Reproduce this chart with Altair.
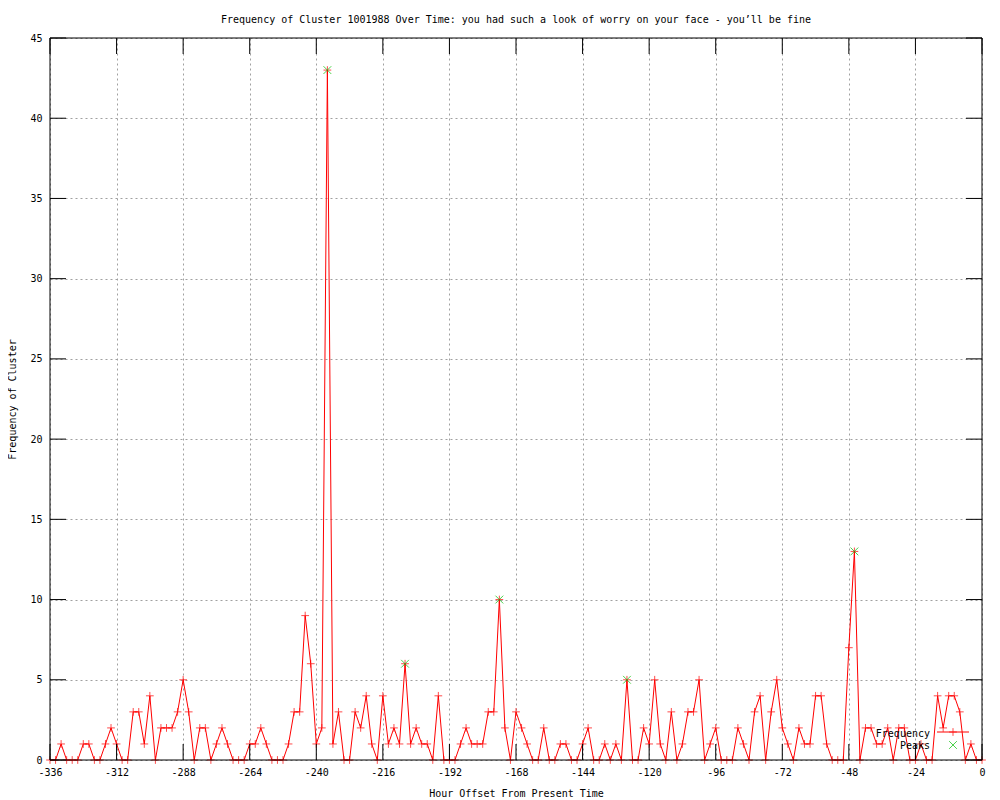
import altair as alt
import pandas as pd

# ---- data ----
hours = list(range(-336, 1, 2))
freq = [
    0, 0, 1, 0, 0, 0, 1, 1, 0,
    0, 1, 2, 1, 0, 0, 3, 3, 1,
    4, 0, 2, 2, 2, 3, 5, 3, 0,
    2, 2, 0, 1, 2, 1, 0, 0, 0,
    1, 1, 2, 1, 0, 0, 0, 1, 3,
    3, 9, 6, 1, 2, 43, 1, 3, 0,
    0, 3, 2, 4, 1, 0, 4, 1, 2,
    1, 6, 1, 2, 1, 1, 0, 4, 0,
    0, 0, 1, 2, 1, 1, 1, 3, 3,
    10, 2, 0, 3, 2, 1, 0, 0, 2,
    0, 0, 1, 1, 0, 0, 1, 2, 0,
    0, 1, 0, 1, 0, 5, 0, 0, 2,
    1, 5, 1, 0, 3, 0, 1, 3, 3,
    5, 0, 1, 2, 0, 0, 0, 2, 1,
    0, 3, 4, 0, 3, 5, 2, 1, 0,
    2, 1, 1, 4, 4, 1, 0, 0, 0,
    7, 13, 0, 2, 2, 1, 1, 2, 0,
    2, 2, 0, 0, 1, 0, 0, 4, 2,
    4, 4, 3, 0, 1, 0, 0,
]
peak_hours = [-236, -208, -174, -128, -46]
peak_values = [43, 6, 10, 5, 13]
x_ticks = [-336, -312, -288, -264, -240, -216, -192, -168, -144, -120, -96, -72, -48, -24, 0]
y_ticks = [0, 5, 10, 15, 20, 25, 30, 35, 40, 45]

TITLE = "Frequency of Cluster 1001988 Over Time: you had such a look of worry on your face - you\u2019ll be fine"
FONT = "DejaVu Sans Mono"
W, H = 932, 722
TICK = 16

df = pd.DataFrame({"hour": hours, "freq": freq})
peaks = pd.DataFrame({"hour": peak_hours, "freq": peak_values})
xt = pd.DataFrame({"hour": x_ticks})
yt = pd.DataFrame({"freq": y_ticks})

PLUS = "M-1,0L1,0M0,-1L0,1"
CROSS = "M-1,-1L1,1M-1,1L1,-1"
RED = "#ff0000"
GREEN = "#00c000"

xscale = alt.Scale(domain=[-336, 0], nice=False, zero=False)
yscale = alt.Scale(domain=[0, 45], nice=False)

xaxis = alt.Axis(values=x_ticks, title="Hour Offset From Present Time", grid=True,
                 gridDash=[2, 3], gridColor="#a0a0a0", ticks=False, domain=False,
                 labelExpr="'' + datum.value", labelPadding=7, titlePadding=11,
                 labelFlush=False)
yaxis = alt.Axis(values=y_ticks, title="Frequency of Cluster", grid=True,
                 gridDash=[2, 3], gridColor="#a0a0a0", ticks=False, domain=False,
                 labelExpr="'' + datum.value", labelPadding=8, titlePadding=12)

base = alt.Chart(df).encode(
    x=alt.X("hour:Q", scale=xscale, axis=xaxis),
    y=alt.Y("freq:Q", scale=yscale, axis=yaxis),
)

line = base.mark_line(color=RED, strokeWidth=1)
pts = base.mark_point(shape=PLUS, color=RED, filled=False, size=60, strokeWidth=1)
pk = alt.Chart(peaks).mark_point(shape=CROSS, color=GREEN, filled=False, size=60, strokeWidth=1).encode(
    x=alt.X("hour:Q", scale=xscale), y=alt.Y("freq:Q", scale=yscale))

# inward ticks on all four sides
yt_left = alt.Chart(yt).mark_rule(color="black").encode(
    y=alt.Y("freq:Q", scale=yscale), x=alt.value(0), x2=alt.value(TICK))
yt_right = alt.Chart(yt).mark_rule(color="black").encode(
    y=alt.Y("freq:Q", scale=yscale), x=alt.value(W - TICK), x2=alt.value(W))
xt_bot = alt.Chart(xt).mark_rule(color="black").encode(
    x=alt.X("hour:Q", scale=xscale), y=alt.value(H - TICK), y2=alt.value(H))
xt_top = alt.Chart(xt).mark_rule(color="black").encode(
    x=alt.X("hour:Q", scale=xscale), y=alt.value(0), y2=alt.value(TICK))

one = alt.Data(values=[{"k": 1}])
border = alt.Chart(one).mark_rect(filled=False, stroke="black", strokeWidth=1).encode(
    x=alt.value(0), x2=alt.value(W), y=alt.value(0), y2=alt.value(H))

# legend (gnuplot style: label left, sample right)
leg_txt = alt.Chart(alt.Data(values=[{"t": "Frequency", "yy": 696}, {"t": "Peaks", "yy": 708}])).mark_text(
    font=FONT, fontSize=10, align="right", baseline="middle", color="black").encode(
    text="t:N", x=alt.value(880), y=alt.Y("yy:Q", scale=None))
leg_line = alt.Chart(one).mark_rule(color=RED, strokeWidth=1).encode(
    x=alt.value(887), x2=alt.value(919), y=alt.value(694))
leg_plus = alt.Chart(one).mark_point(shape=PLUS, color=RED, filled=False, size=60, strokeWidth=1).encode(
    x=alt.value(903), y=alt.value(694))
leg_cross = alt.Chart(one).mark_point(shape=CROSS, color=GREEN, filled=False, size=60, strokeWidth=1).encode(
    x=alt.value(903), y=alt.value(707))

chart = alt.layer(
    line, pts, pk, yt_left, yt_right, xt_bot, xt_top, border,
    leg_txt, leg_line, leg_plus, leg_cross,
).properties(
    width=W, height=H,
    title=alt.TitleParams(TITLE, font=FONT, fontSize=10, fontWeight="normal",
                          baseline="middle", offset=3, color="black"),
    autosize=alt.AutoSizeParams(type="none"),
    padding={"left": 42, "top": 30, "right": 10, "bottom": 40},
).configure_axis(
    labelFont=FONT, labelFontSize=10, labelColor="black",
    titleFont=FONT, titleFontSize=10, titleFontWeight="normal", titleColor="black",
).configure_view(stroke=None)

chart.save("out.html", embed_options={"renderer": "svg", "actions": False})
